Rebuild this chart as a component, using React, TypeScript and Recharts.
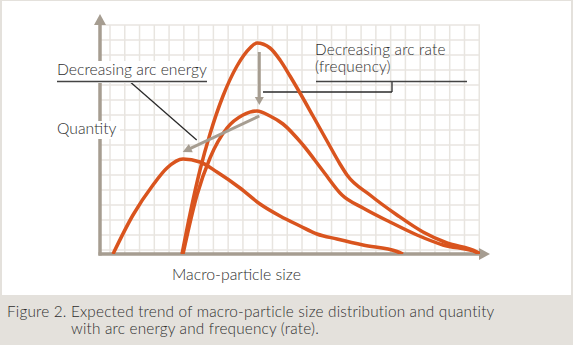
import { LineChart, Line, XAxis, YAxis, CartesianGrid, ReferenceLine } from "recharts";

// macro-particle size (x) vs quantity (y), arbitrary units
const highEnergyHighRate = [
  { x: 82, y: 0 }, { x: 90, y: 40 }, { x: 100, y: 84 }, { x: 110, y: 120 },
  { x: 123, y: 158 }, { x: 137, y: 188 }, { x: 150, y: 206 }, { x: 157, y: 211 },
  { x: 170, y: 206 }, { x: 180, y: 194 }, { x: 190, y: 178 }, { x: 200, y: 161 },
  { x: 213, y: 138 }, { x: 227, y: 113 }, { x: 240, y: 90 }, { x: 247, y: 79 },
  { x: 270, y: 59 }, { x: 297, y: 39 }, { x: 323, y: 22 }, { x: 347, y: 11 },
  { x: 377, y: 2 }, { x: 380, y: 0 },
];
const highEnergyLowRate = [
  { x: 83, y: 0 }, { x: 97, y: 59 }, { x: 110, y: 96 }, { x: 127, y: 126 },
  { x: 143, y: 139 }, { x: 157, y: 143 }, { x: 170, y: 138 }, { x: 183, y: 130 },
  { x: 203, y: 109 }, { x: 223, y: 83 }, { x: 242, y: 59 }, { x: 263, y: 46 },
  { x: 290, y: 32 }, { x: 317, y: 19 }, { x: 343, y: 9 }, { x: 377, y: 1.5 }, { x: 380, y: 0 },
];
const lowEnergy = [
  { x: 13, y: 0 }, { x: 33, y: 39 }, { x: 53, y: 69 }, { x: 67, y: 86 },
  { x: 83, y: 95 }, { x: 100, y: 92 }, { x: 117, y: 82 }, { x: 140, y: 66 },
  { x: 160, y: 50 }, { x: 180, y: 38 }, { x: 200, y: 28 }, { x: 217, y: 20 },
  { x: 237, y: 15 }, { x: 263, y: 9 }, { x: 297, y: 2.5 }, { x: 303, y: 0 },
];

const labels = {
  energy: "Decreasing arc energy",
  rate: ["Decreasing arc rate", "(frequency)"],
  yTitle: "Quantity",
  xTitle: "Macro-particle size",
  caption: [
    "Figure 2. Expected trend of macro-particle size distribution and quantity",
    "with arc energy and frequency (rate).",
  ],
};

const ORANGE = "#d9541e";
const TAUPE = "#a69d91";
const INK = "#2e2e2e";
const FONT = "Lato, 'Open Sans', sans-serif";

const gridX = Array.from({ length: 26 }, (_, i) => 110 + i * 14.77);
const gridY = Array.from({ length: 16 }, (_, i) => 25 + i * 15);

const arrow = (color: string, w: number, head: number, half: number) => (p: any) => {
  const { x1, y1, x2, y2 } = p;
  const dx = x2 - x1;
  const dy = y2 - y1;
  const len = Math.hypot(dx, dy) || 1;
  const ux = dx / len;
  const uy = dy / len;
  const bx = x2 - ux * head;
  const by = y2 - uy * head;
  return (
    <g>
      <line x1={x1} y1={y1} x2={bx + ux} y2={by + uy} stroke={color} strokeWidth={w} />
      <polygon
        points={`${x2},${y2} ${bx - uy * half},${by + ux * half} ${bx + uy * half},${by - ux * half}`}
        fill={color}
      />
    </g>
  );
};

const plain = (color: string, w: number) => (p: any) => (
  <line x1={p.x1} y1={p.y1} x2={p.x2} y2={p.y2} stroke={color} strokeWidth={w} />
);

export default function App() {
  return (
    <div style={{ position: "absolute", left: 0, top: 0, width: 573, height: 345, background: "#e4e1dc" }}>
      <div style={{ position: "absolute", left: 2, top: 1, width: 569, height: 294, background: "#fff" }} />
      <div style={{ position: "absolute", left: 0, top: 0 }}>
        <LineChart width={573} height={295} margin={{ top: 25, right: 93, bottom: 41, left: 100 }}>
          <CartesianGrid
            stroke="#e8e5e0"
            strokeWidth={1.5}
            verticalPoints={gridX}
            horizontalPoints={gridY}
          />
          <XAxis type="number" dataKey="x" domain={[0, 380]} hide allowDataOverflow />
          <YAxis type="number" dataKey="y" domain={[0, 229]} hide allowDataOverflow />

          <ReferenceLine segment={[{ x: 0, y: -1.5 }, { x: 0, y: 240 }]} ifOverflow="visible" shape={arrow(TAUPE, 3.5, 11, 6)} />
          <ReferenceLine segment={[{ x: -1.5, y: 0 }, { x: 390, y: 0 }]} ifOverflow="visible" shape={arrow(TAUPE, 3.5, 11, 6)} />

          <ReferenceLine segment={[{ x: 30, y: 172.3 }, { x: 96.7, y: 114 }]} ifOverflow="visible" shape={plain("#2a2a2a", 1.3)} />
          <ReferenceLine segment={[{ x: 292, y: 172.3 }, { x: 292, y: 162 }]} ifOverflow="visible" shape={plain("#2a2a2a", 1.3)} />
          <ReferenceLine segment={[{ x: 292, y: 162 }, { x: 163, y: 162 }]} ifOverflow="visible" shape={plain("#2a2a2a", 1.3)} />

          <Line data={lowEnergy} dataKey="y" type="monotone" stroke={ORANGE} strokeWidth={3.5} dot={false} isAnimationActive={false} />
          <Line data={highEnergyLowRate} dataKey="y" type="monotone" stroke={ORANGE} strokeWidth={3.5} dot={false} isAnimationActive={false} />
          <Line data={highEnergyHighRate} dataKey="y" type="monotone" stroke={ORANGE} strokeWidth={3.5} dot={false} isAnimationActive={false} />

          <ReferenceLine segment={[{ x: 159.3, y: 202 }, { x: 159.3, y: 149 }]} ifOverflow="visible" shape={arrow(TAUPE, 3, 8, 4.5)} />
          <ReferenceLine segment={[{ x: 159.3, y: 138 }, { x: 82.7, y: 102 }]} ifOverflow="visible" shape={arrow(TAUPE, 3, 9, 4.5)} />
        </LineChart>
      </div>

      <svg width={573} height={345} style={{ position: "absolute", left: 0, top: 0 }} fontFamily={FONT} fontWeight={300} fill={INK}>
        <rect x={54} y={61} width={157} height={22} fill="#fff" />
        <text x={57} y={75} fontSize={15.7}>{labels.energy}</text>
        <line x1={57} y1={81.5} x2={207} y2={81.5} stroke="#444" strokeWidth={1.5} />

        <rect x={54} y={121} width={66} height={18} fill="#fff" />
        <text x={57} y={134} fontSize={15.7}>{labels.yTitle}</text>

        <text x={315} y={55} fontSize={15.3} letterSpacing={0.2}>{labels.rate[0]}</text>
        <text x={315} y={72} fontSize={15.3} letterSpacing={0.2}>{labels.rate[1]}</text>
        <line x1={316} y1={81.5} x2={467} y2={81.5} stroke="#444" strokeWidth={1.5} />

        <text x={172} y={280} fontSize={15.8}>{labels.xTitle}</text>

        <text x={7} y={317} fontSize={15.3} letterSpacing={0.2}>{labels.caption[0]}</text>
        <text x={71} y={334} fontSize={15.3} letterSpacing={0.2}>{labels.caption[1]}</text>
      </svg>
    </div>
  );
}
